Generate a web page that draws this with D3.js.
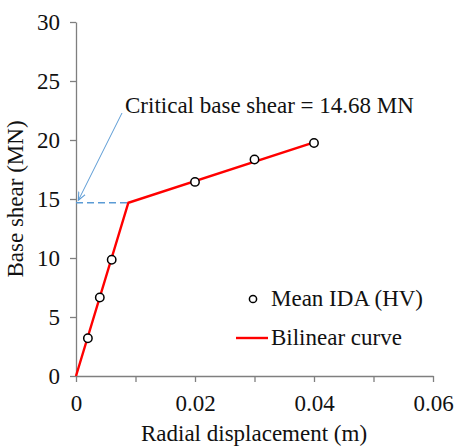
<!DOCTYPE html>
<html><head><meta charset="utf-8">
<script src="https://cdn.jsdelivr.net/npm/d3@7"></script>
<style>body{margin:0;background:#fff}svg{display:block}text{font-family:"Liberation Serif","Times New Roman",serif;fill:#111}</style>
</head><body><svg id="c" width="454" height="448"></svg>
<script>
const idaX = [0.002, 0.004, 0.006, 0.02, 0.03, 0.04];
const idaY = [3.2, 6.65, 9.85, 16.45, 18.35, 19.75];
const bilinX = [0, 0.0088, 0.04];
const bilinY = [0, 14.68, 19.8];
const critical = 14.68;
const xTicks = [0, 0.01, 0.02, 0.03, 0.04, 0.05, 0.06];
const xTickLabels = ["0", "", "0.02", "", "0.04", "", "0.06"];
const yTicks = [0, 5, 10, 15, 20, 25, 30];

const svg = d3.select("#c");
const x = d3.scaleLinear().domain([0, 0.06]).range([76, 433]);
const y = d3.scaleLinear().domain([0, 30]).range([376, 22]);
const axisCol = "#7f7f7f";
const fs = 23;

const xa = svg.append("g").attr("transform", "translate(0,376)")
  .call(d3.axisBottom(x).tickValues(xTicks).tickFormat((d,i)=>xTickLabels[i]).tickSize(6).tickPadding(8).tickSizeOuter(0));
const ya = svg.append("g").attr("transform", "translate(76,0)")
  .call(d3.axisLeft(y).tickValues(yTicks).tickFormat(d3.format("d")).tickSize(6).tickPadding(10).tickSizeOuter(0));
[xa, ya].forEach(g => {
  g.select(".domain").attr("stroke", axisCol).attr("stroke-width", 1.3);
  g.selectAll(".tick line").attr("stroke", axisCol).attr("stroke-width", 1.3);
  g.selectAll(".tick text").attr("font-size", fs).attr("font-family", '"Liberation Serif",serif').attr("fill", "#111");
});
xa.selectAll(".tick text").attr("y", 35).attr("dy", null);
ya.selectAll(".tick text").attr("dy", "0.34em");

svg.append("text").attr("x", 254).attr("y", 441).attr("text-anchor", "middle").attr("font-size", fs).text("Radial displacement (m)");
svg.append("text").attr("transform", "translate(23,199) rotate(-90)").attr("text-anchor", "middle").attr("font-size", fs).text("Base shear (MN)");

// dashed critical line
svg.append("line").attr("x1", x(0)).attr("x2", x(bilinX[1])).attr("y1", y(critical)).attr("y2", y(critical))
  .attr("stroke", "#5b9bd5").attr("stroke-width", 1.5).attr("stroke-dasharray", "7,4");

// bilinear curve
const pts = bilinX.map((d,i)=>[d, bilinY[i]]);
svg.append("path").datum(pts).attr("fill", "none").attr("stroke", "#ff0000").attr("stroke-width", 2.4)
  .attr("d", d3.line().x(d=>x(d[0])).y(d=>y(d[1])));

// IDA points
svg.selectAll("circle.ida").data(idaX.map((d,i)=>[d, idaY[i]])).join("circle")
  .attr("cx", d=>x(d[0])).attr("cy", d=>y(d[1])).attr("r", 4.2)
  .attr("fill", "#fff").attr("stroke", "#000").attr("stroke-width", 1.5);

// annotation
svg.append("defs").append("marker").attr("id", "arr").attr("viewBox", "0 0 10 10").attr("refX", 9).attr("refY", 5)
  .attr("markerWidth", 9).attr("markerHeight", 9).attr("orient", "auto").attr("markerUnits", "userSpaceOnUse")
  .append("path").attr("d", "M0,1 L9,5 L0,9").attr("fill", "none").attr("stroke", "#5b9bd5").attr("stroke-width", 1.2);
svg.append("line").attr("x1", 122).attr("y1", 113).attr("x2", x(0.0004)).attr("y2", y(critical) - 2.5)
  .attr("stroke", "#5b9bd5").attr("stroke-width", 1).attr("marker-end", "url(#arr)");
svg.append("text").attr("x", 125).attr("y", 113).attr("font-size", fs).text("Critical base shear = 14.68 MN");

// legend
svg.append("circle").attr("cx", 253).attr("cy", 299).attr("r", 3.6).attr("fill", "#fff").attr("stroke", "#000").attr("stroke-width", 1.5);
svg.append("text").attr("x", 271).attr("y", 306).attr("font-size", fs).text("Mean IDA (HV)");
svg.append("line").attr("x1", 236).attr("x2", 268).attr("y1", 338).attr("y2", 338).attr("stroke", "#ff0000").attr("stroke-width", 2.4);
svg.append("text").attr("x", 271).attr("y", 345).attr("font-size", fs).text("Bilinear curve");
</script></body></html>
